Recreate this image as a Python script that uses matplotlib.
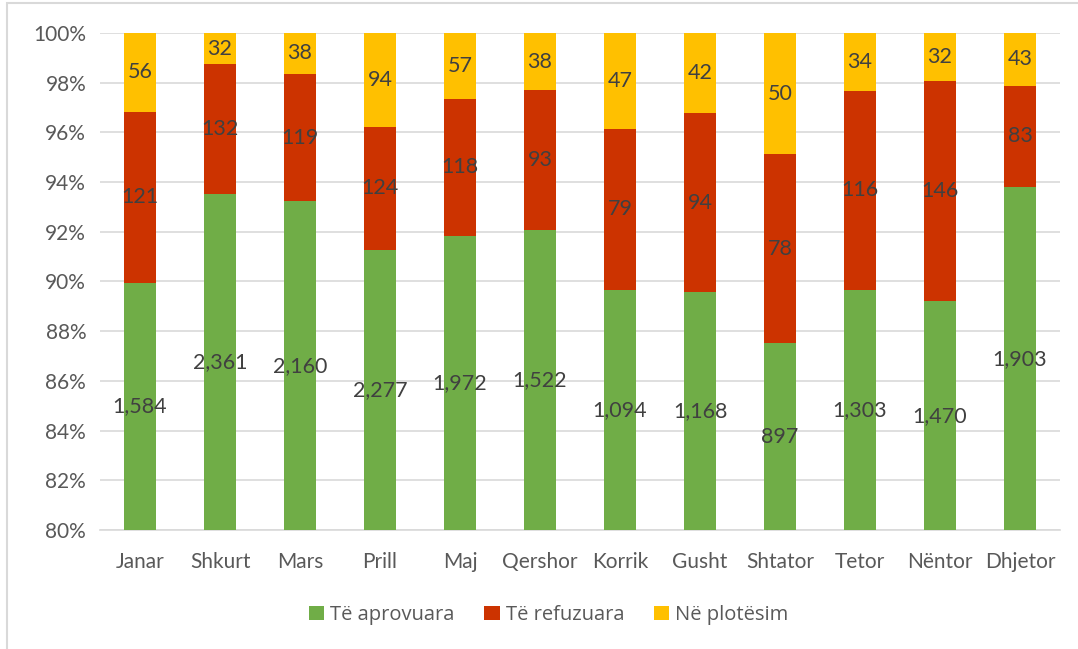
import numpy as np
import matplotlib.pyplot as plt
from matplotlib.patches import Rectangle

muajt = ['Janar', 'Shkurt', 'Mars', 'Prill', 'Maj', 'Qershor', 'Korrik',
         'Gusht', 'Shtator', 'Tetor', 'Nëntor', 'Dhjetor']
aprovuara = [1584, 2361, 2160, 2277, 1972, 1522, 1094, 1168, 897, 1303, 1470, 1903]
refuzuara = [121, 132, 119, 124, 118, 93, 79, 94, 78, 116, 146, 83]
ne_plotesim = [56, 32, 38, 94, 57, 38, 47, 42, 50, 34, 32, 43]

seri = [('Të aprovuara', aprovuara, '#70ad47'),
        ('Të refuzuara', refuzuara, '#cc3300'),
        ('Në plotësim', ne_plotesim, '#ffc000')]

ymin, ymax = 80, 100
plt.rcParams['font.family'] = ['Lato', 'DejaVu Sans']

fig = plt.figure(figsize=(10.78, 6.49), dpi=100)
ax = fig.add_axes([0.0928, 0.1834, 0.8905, 0.7658])

x = np.arange(len(muajt))
totals = np.array(aprovuara) + np.array(refuzuara) + np.array(ne_plotesim)
bottom = np.zeros(len(muajt))
for emri, vals, ngjyra in seri:
    pct = np.array(vals) / totals * 100
    ax.bar(x, pct, 0.4, bottom=bottom, color=ngjyra, label=emri, zorder=3)
    # etiketa ne mes te pjeses se dukshme
    for i in range(len(x)):
        lo = max(bottom[i], ymin)
        hi = min(bottom[i] + pct[i], ymax)
        ax.text(x[i], (lo + hi) / 2, f'{vals[i]:,}', ha='center', va='center',
                fontsize=15.5, color='#404040', zorder=4)
    bottom += pct

ax.set_ylim(ymin, ymax)
ax.set_xlim(-0.5, len(muajt) - 0.5)
ax.set_yticks(np.arange(80, 101, 2))
ax.set_yticklabels([f'{v}%' for v in range(80, 101, 2)])
ax.set_xticks(x)
ax.set_xticklabels(muajt)
ax.tick_params(length=0, labelsize=15, colors='#595959', pad=10)
ax.tick_params(axis='x', pad=16)
ax.grid(axis='y', color='#d9d9d9', lw=1.2, zorder=0)
for s in ['top', 'right', 'left']:
    ax.spines[s].set_visible(False)
ax.spines['bottom'].set_color('#d9d9d9')
ax.spines['bottom'].set_linewidth(1.2)

leg = fig.legend(loc='center', bbox_to_anchor=(0.509, 1 - 615 / 649), ncol=3,
                 frameon=False, prop={'family': 'Open Sans', 'size': 14.5},
                 handlelength=0.75, handleheight=0.75, handletextpad=0.3,
                 columnspacing=1.5)
for t in leg.get_texts():
    t.set_color('#595959')

fig.patches.append(Rectangle((7 / 1078, -0.1), 1.2, 1 - 3 / 649 + 0.1,
                             transform=fig.transFigure, fill=False,
                             edgecolor='#d9d9d9', lw=1.5))

fig.savefig('out.png', dpi=100)
